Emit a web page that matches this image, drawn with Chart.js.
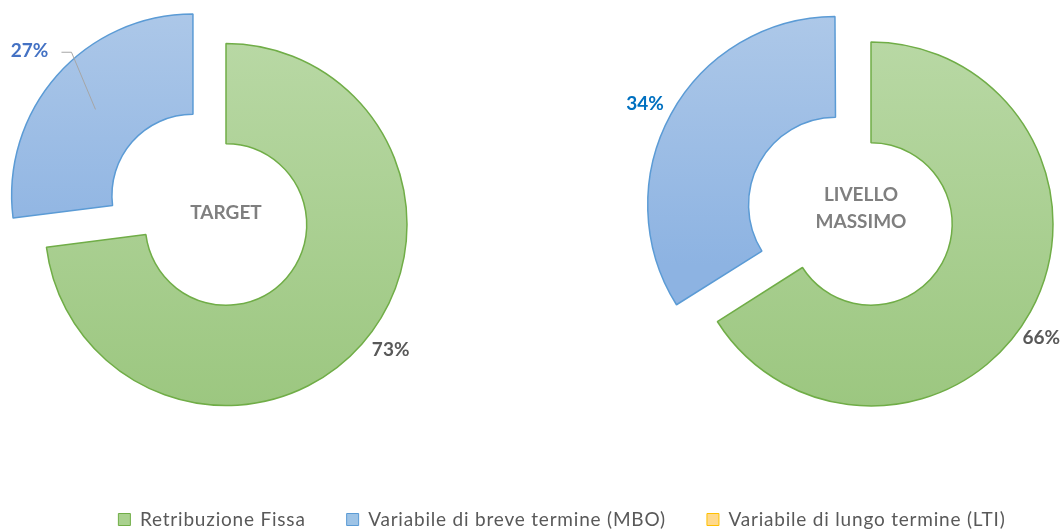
<!DOCTYPE html>
<html><head><meta charset="utf-8">
<script src="https://cdn.jsdelivr.net/npm/chart.js@4.4.1/dist/chart.umd.min.js"></script>
<style>
html,body{margin:0;padding:0;background:#fff;overflow:hidden}
#wrap{position:relative;width:1062px;height:531px}
canvas{position:absolute;left:0;top:0}
</style></head><body>
<div id="wrap">
<canvas id="cLeft" width="1062" height="531"></canvas>
<canvas id="cRight" width="1062" height="531"></canvas>
<canvas id="cLegend" width="1062" height="531"></canvas>
</div>
<script>
// ---- data ----
const categories = ['Retribuzione Fissa', 'Variabile di breve termine (MBO)', 'Variabile di lungo termine (LTI)'];
const targetValues = [73, 27, 0];
const massimoValues = [66, 34, 0];
const targetTitle = ['TARGET'];
const massimoTitle = ['LIVELLO', 'MASSIMO'];

// ---- style ----
const FONT = 'Lato';
const fillColors = ['#A9D18E', '#9DC3E6', '#FFD98C'];
const borderColors = ['#70AD47', '#5B9BD5', '#FFC000'];
const gradStops = [['#B8D8A4', '#9CC780'], ['#B0CAE9', '#8DB3E2'], ['#FFE4A8', '#FFD070']];

function scriptBg(ctx) {
  const chart = ctx.chart, ca = chart.chartArea;
  const i = ctx.dataIndex;
  if (!ca) return fillColors[i];
  const cy = (ca.top + ca.bottom) / 2;
  const R = ctx.dataset.radius;
  let top = cy - R, bottom = cy + R;
  if (i === 1) { top = cy - R - 30; bottom = cy + 60; }
  const g = chart.ctx.createLinearGradient(0, top, 0, bottom);
  g.addColorStop(0, gradStops[i][0]);
  g.addColorStop(1, gradStops[i][1]);
  return g;
}

const annotPlugin = {
  id: 'annot',
  afterDatasetsDraw(chart, args, opts) {
    const ctx = chart.ctx;
    const meta = chart.getDatasetMeta(0);
    const ds = chart.data.datasets[0];
    const ca = chart.chartArea;
    const cx = (ca.left + ca.right) / 2, cy = (ca.top + ca.bottom) / 2;
    ctx.save();
    // center title
    ctx.fillStyle = '#7F7F7F';
    ctx.font = 'bold 19px ' + FONT;
    ctx.textAlign = 'center';
    ctx.textBaseline = 'middle';
    opts.title.forEach((t, k) => {
      ctx.fillText(t, cx + opts.titleDx, cy + opts.titleDy + k * opts.titleLine);
    });
    // percent labels
    meta.data.forEach((arc, i) => {
      const v = ds.data[i];
      if (!v) return;
      const p = opts.place[i];
      const mid = (arc.startAngle + arc.endAngle) / 2;
      const a = mid + p.dAngle * Math.PI / 180;
      const lx = cx + Math.cos(a) * p.r, ly = cy + Math.sin(a) * p.r;
      if (p.leader) {
        ctx.strokeStyle = '#A6A6A6';
        ctx.lineWidth = 1;
        ctx.beginPath();
        ctx.moveTo(cx + Math.cos(mid) * p.leader, cy + Math.sin(mid) * p.leader);
        ctx.lineTo(lx + 42, ly + 1);
        ctx.lineTo(lx + 32, ly + 1);
        ctx.stroke();
      }
      ctx.fillStyle = p.color;
      ctx.font = 'bold 19px ' + FONT;
      ctx.fillText(v + '%', lx, ly);
    });
    ctx.restore();
  }
};

function donut(id, values, radius, offsets, padding, annot) {
  return new Chart(document.getElementById(id), {
    type: 'doughnut',
    data: {
      labels: categories,
      datasets: [{
        data: values,
        radius: radius,
        offset: offsets,
        backgroundColor: scriptBg,
        borderColor: borderColors,
        borderWidth: 1.5,
        clip: false
      }]
    },
    options: {
      responsive: false,
      animation: false,
      events: [],
      cutout: '44.6%',
      layout: { padding: padding },
      plugins: { legend: { display: false }, tooltip: { enabled: false }, annot: annot }
    },
    plugins: [annotPlugin]
  });
}

donut('cLeft', targetValues, 181, [0, 176, 0],
  { left: 0, top: 0, right: 610, bottom: 82 },
  { title: targetTitle, titleDx: 0, titleDy: -12, titleLine: 27,
    place: [{ dAngle: -4.1, r: 207, color: '#595959' },
            { dAngle: 0, r: 262, color: '#4472C4', leader: 174 }, {}] });

donut('cRight', massimoValues, 182, [0, 160, 0],
  { left: 680, top: 0, right: 0, bottom: 83 },
  { title: massimoTitle, titleDx: -10, titleDy: -29.5, titleLine: 27,
    place: [{ dAngle: 5, r: 205, color: '#595959' },
            { dAngle: -0.8, r: 256, color: '#0070C0' }, {}] });

// legend-only chart
const legendCanvas = document.getElementById('cLegend');
legendCanvas.getContext('2d').letterSpacing = '0.8px';
new Chart(legendCanvas, {
  type: 'doughnut',
  data: {
    labels: categories,
    datasets: [{ data: targetValues, backgroundColor: fillColors, borderColor: borderColors, borderWidth: 1 }]
  },
  options: {
    responsive: false, animation: false, events: [],
    layout: { padding: { left: 62, right: 0, top: 0, bottom: -8 } },
    plugins: {
      tooltip: { enabled: false },
      legend: {
        display: true, position: 'bottom',
        labels: { font: { family: FONT, size: 19 }, color: '#595959', boxWidth: 12, boxHeight: 12, padding: 41 }
      }
    }
  },
  plugins: [
    { id: 'noDraw', beforeDatasetsDraw() { return false; } },
    { id: 'spacing', beforeLayout(c) { c.ctx.letterSpacing = '0.8px'; }, beforeDraw(c) { c.ctx.letterSpacing = '0.8px'; } }
  ]
});
</script>
</body></html>
